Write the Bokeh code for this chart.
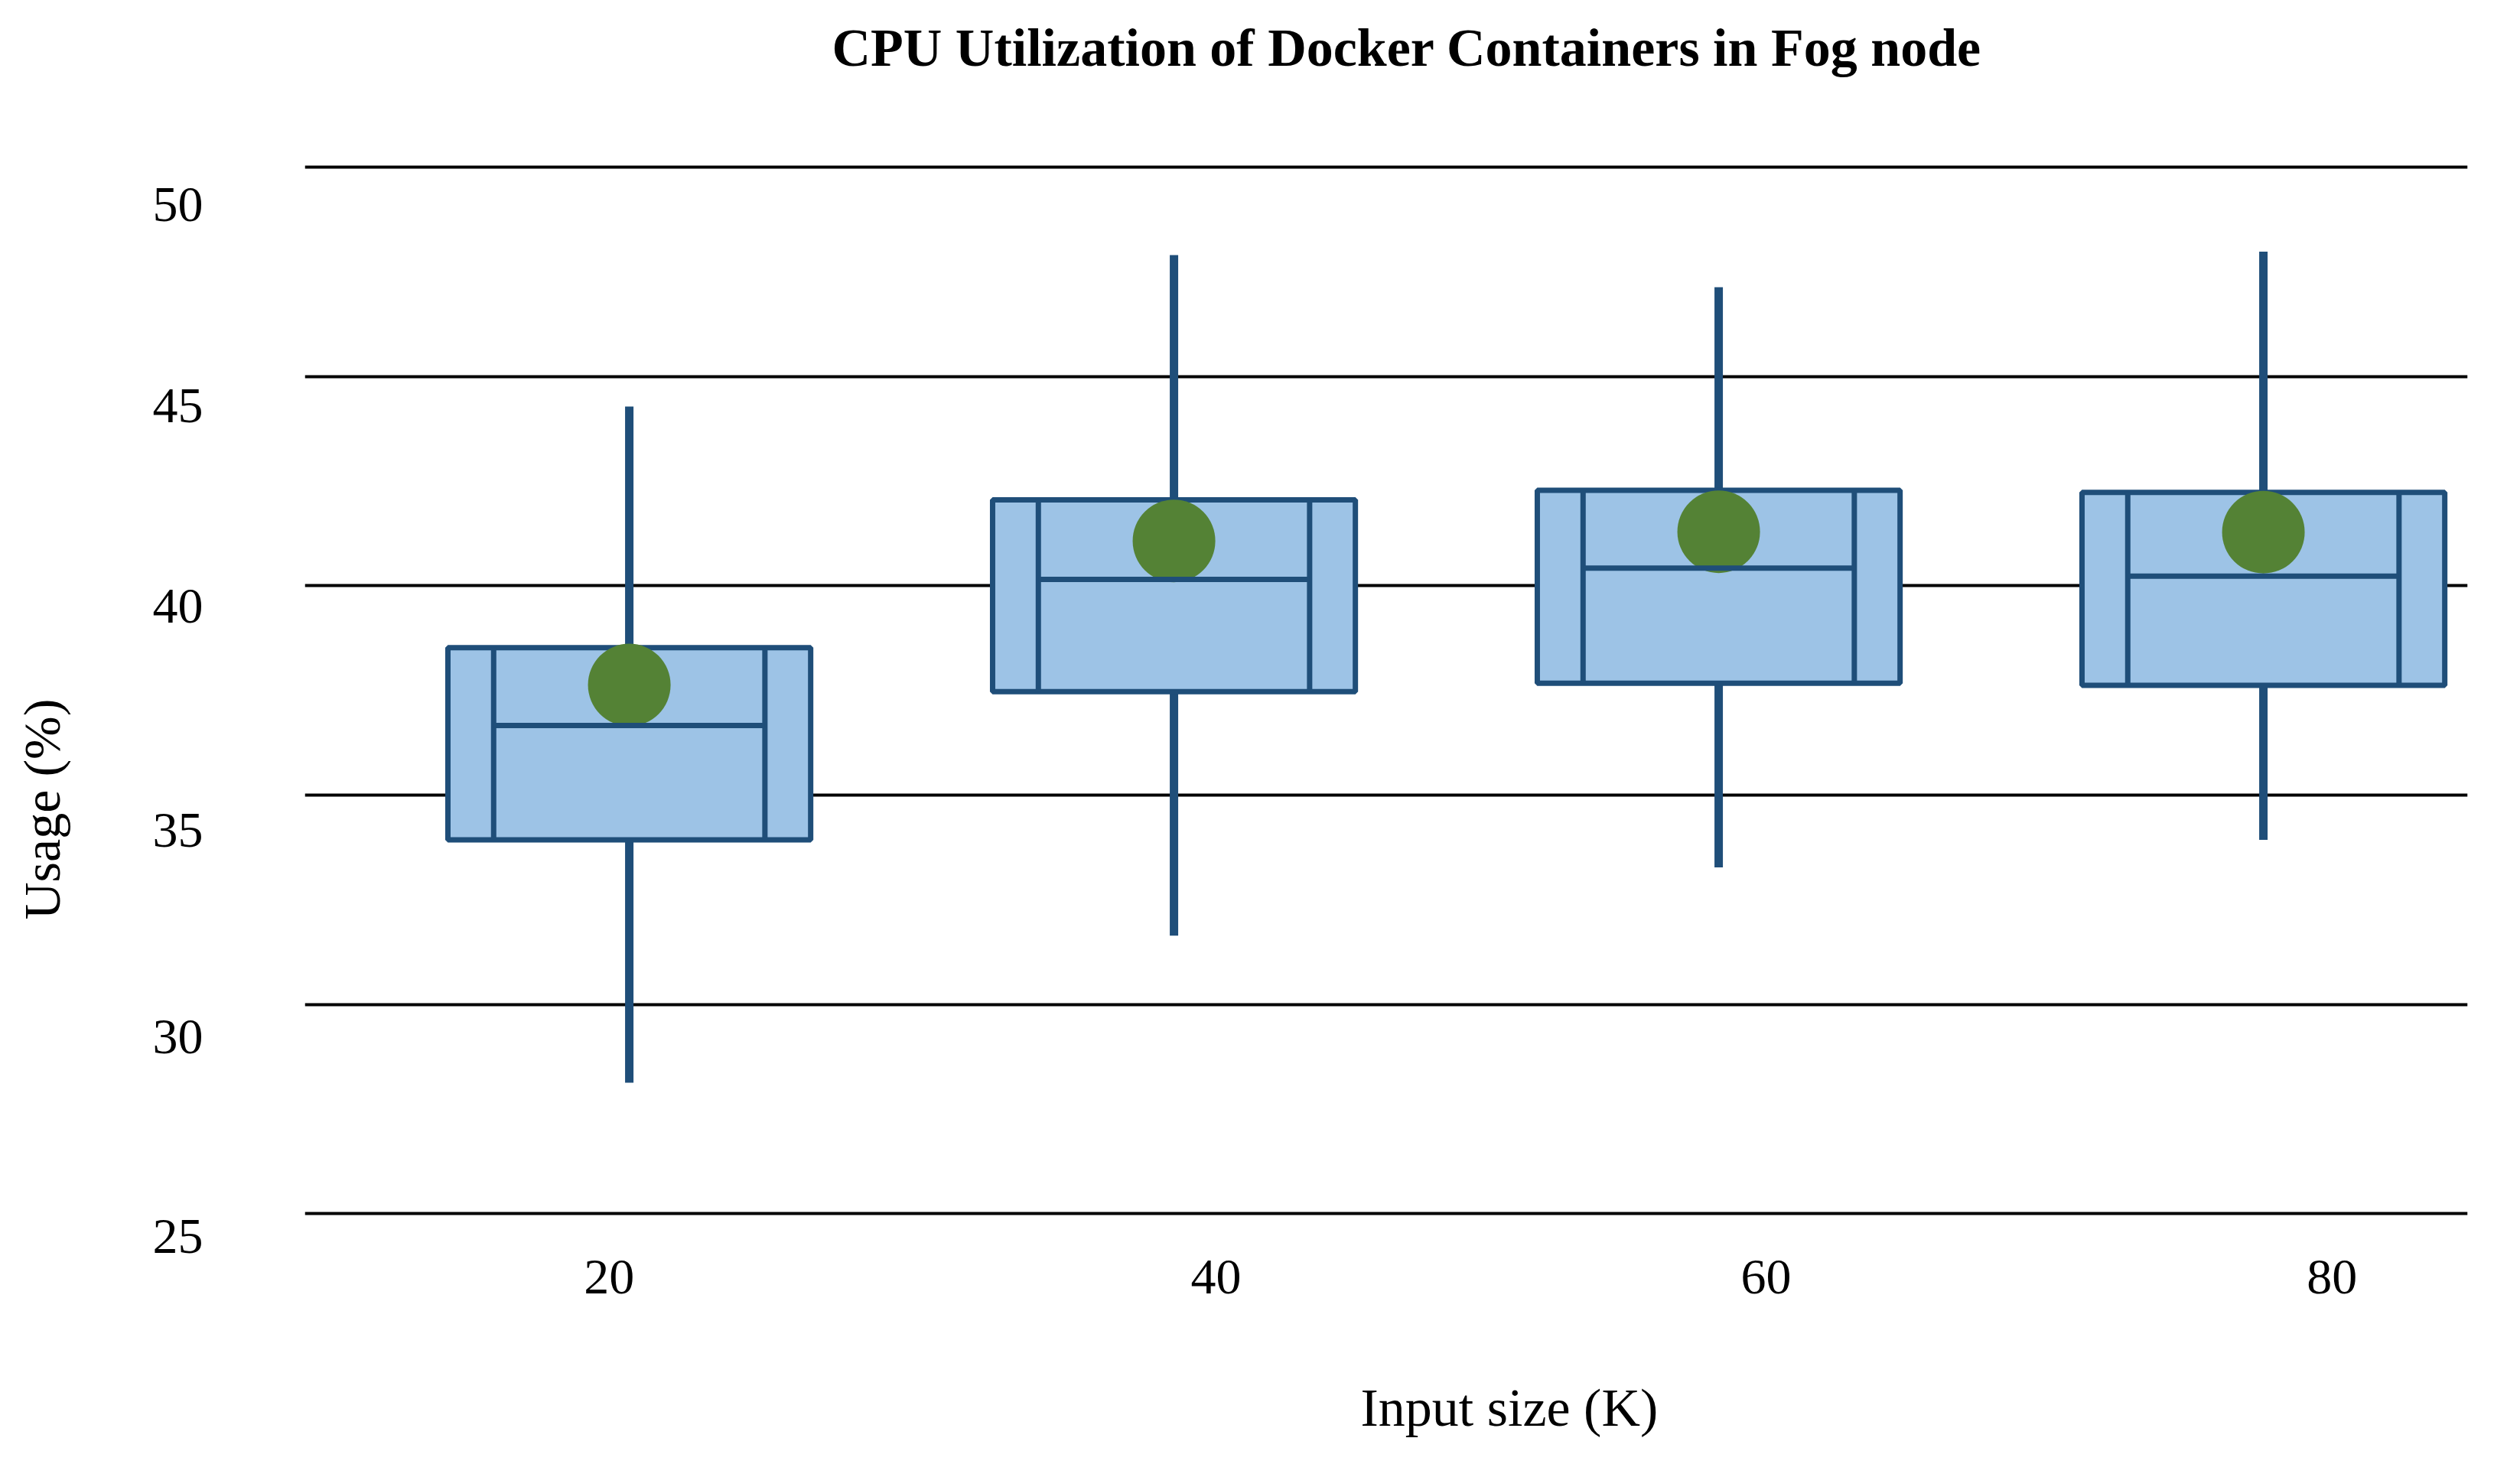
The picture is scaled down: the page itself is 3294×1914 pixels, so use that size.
import numpy as np
from bokeh.plotting import figure
from bokeh.models import Range1d, FixedTicker, LinearAxis, Title
from bokeh.embed import file_html
from bokeh.resources import INLINE

# ---- data ----
categories = ["20", "40", "60", "80"]
whisker_low = [28.13, 31.64, 33.27, 33.93]
q1 = [33.93, 37.47, 37.67, 37.62]
median = [36.66, 40.15, 40.42, 40.23]
q3 = [38.52, 42.05, 42.28, 42.23]
whisker_high = [44.28, 47.90, 47.13, 47.98]
mean = [37.63, 41.07, 41.29, 41.28]
y_tick_values = [25, 30, 35, 40, 45, 50]
y_tick_labels = ["25", "30", "35", "40", "45", "50"]

# ---- layout / style constants ----
X_LABEL_POS = [-0.037, 1.077, 2.087, 3.126]
Y_LABEL_POS = [24.45, 29.23, 34.16, 39.51, 44.30, 49.11]
BOX_W = 0.666
INNER = 0.249
FILL = "#9DC3E6"
EDGE = "#1F4E79"
GREEN = "#548235"
FONT = "Liberation Serif"

xs = np.arange(len(categories))

p = figure(width=3278, height=1898, output_backend="svg", toolbar_location=None,
           x_range=Range1d(-0.5956, 3.3749), y_range=Range1d(24.2, 51.845),
           min_border_left=398, min_border_right=53, min_border_top=117,
           min_border_bottom=268)
p.outline_line_color = None
p.background_fill_color = "white"
p.border_fill_color = "white"

# title
p.title.text = "CPU Utilization of Docker Containers in Fog node"
p.title.text_font = FONT
p.title.text_font_size = "70px"
p.title.text_font_style = "bold"
p.title.text_color = "black"
p.title.align = "left"
p.title.offset = 689
p.title.standoff = 34

# grid
p.xgrid.visible = False
p.ygrid.ticker = FixedTicker(ticks=y_tick_values)
p.ygrid.grid_line_color = "black"
p.ygrid.grid_line_width = 4

# axes
def style_axis(ax):
    ax.axis_line_color = None
    ax.major_tick_line_color = None
    ax.minor_tick_line_color = None
    ax.major_tick_out = 0
    ax.major_tick_in = 0
    ax.minor_tick_out = 0
    ax.minor_tick_in = 0
    ax.major_label_text_font = FONT
    ax.major_label_text_font_size = "66px"
    ax.major_label_text_color = "black"

style_axis(p.xaxis[0])
style_axis(p.yaxis[0])

p.xaxis.ticker = FixedTicker(ticks=X_LABEL_POS)
p.xaxis.major_label_overrides = {pos: lab for pos, lab in zip(X_LABEL_POS, categories)}
p.xaxis.major_label_standoff = 17

p.yaxis.ticker = FixedTicker(ticks=Y_LABEL_POS)
p.yaxis.major_label_overrides = {pos: lab for pos, lab in zip(Y_LABEL_POS, y_tick_labels)}
p.yaxis.major_label_standoff = 133

# invisible spacer axes that set the distance of the axis titles
def spacer(size, tick):
    ax = LinearAxis(ticker=FixedTicker(ticks=[tick]))
    style_axis(ax)
    ax.major_tick_out = size
    ax.major_tick_line_color = "white"
    ax.major_label_standoff = 0
    ax.major_label_text_font_size = "1px"
    ax.major_label_text_color = "white"
    ax.major_label_overrides = {tick: ""}
    return ax

p.add_layout(spacer(104, 30), "left")
p.add_layout(Title(text="Usage (%)", align="left", offset=428, vertical_align="bottom",
                   standoff=0, text_font=FONT, text_font_size="68px",
                   text_font_style="normal", text_color="black"), "left")

p.add_layout(spacer(108, 0), "below")
p.add_layout(Title(text="Input size (K)", align="left", offset=1380, vertical_align="top",
                   standoff=0, text_font=FONT, text_font_size="70px",
                   text_font_style="normal", text_color="black"), "below")

# whiskers
p.segment(x0=xs, y0=whisker_low, x1=xs, y1=whisker_high, line_color=EDGE, line_width=11)
# boxes
p.vbar(x=xs, width=BOX_W, bottom=q1, top=q3, fill_color=FILL, line_color=EDGE, line_width=7)
# mean markers
p.scatter(x=xs, y=mean, size=108, marker="circle", fill_color=GREEN, line_color=None)
# inner vertical lines
p.segment(x0=xs - INNER, y0=q1, x1=xs - INNER, y1=q3, line_color=EDGE, line_width=7)
p.segment(x0=xs + INNER, y0=q1, x1=xs + INNER, y1=q3, line_color=EDGE, line_width=7)
# medians
p.segment(x0=xs - INNER, y0=median, x1=xs + INNER, y1=median, line_color=EDGE, line_width=7)

open("out.html", "w").write(file_html(p, INLINE))
